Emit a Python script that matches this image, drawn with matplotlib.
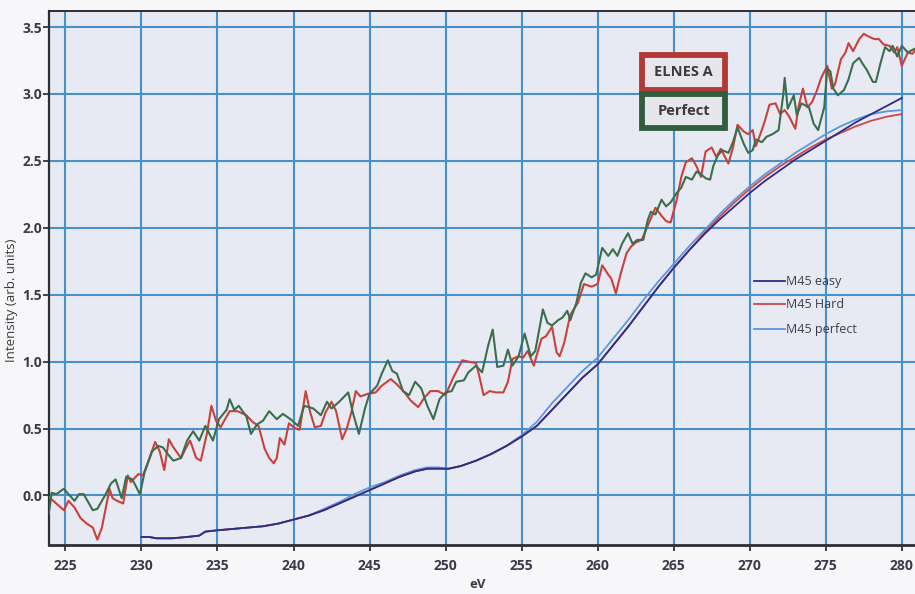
import matplotlib
matplotlib.use("Agg")
import matplotlib.pyplot as plt
from matplotlib.patches import Rectangle
from matplotlib.lines import Line2D

plt.rcParams['font.family'] = ['Open Sans', 'DejaVu Sans']

# Measured ELNES spectra (energy loss in eV, intensity in arb. units)
elnes_a_ev = [223.9, 224.3, 224.9, 225.2, 225.6, 226.0, 226.4, 226.8, 227.1, 227.4, 227.9, 228.1,
              228.4, 228.8, 229.1, 229.3, 229.8, 230.1, 230.4, 230.9, 231.2, 231.5, 231.8, 232.1,
              232.6, 232.9, 233.2, 233.6, 233.9, 234.3, 234.6, 234.9, 235.2, 235.8, 236.3, 236.9,
              237.3, 237.7, 238.1, 238.4, 238.7, 238.9, 239.1, 239.4, 239.7, 240.0, 240.4, 240.8,
              241.1, 241.4, 241.8, 242.1, 242.5, 242.8, 243.2, 243.5, 243.8, 244.1, 244.4, 244.9,
              245.4, 245.8, 246.4, 246.8, 247.3, 247.7, 248.2, 248.6, 249.0, 249.5, 250.0, 250.5,
              251.1, 251.5, 252.0, 252.2, 252.5, 252.9, 253.3, 253.8, 254.1, 254.4, 254.8, 255.1,
              255.4, 255.8, 256.3, 256.6, 257.0, 257.3, 257.5, 257.8, 258.2, 258.7, 259.1, 259.6,
              260.0, 260.3, 260.7, 260.9, 261.2, 261.5, 261.9, 262.2, 262.5, 262.9, 263.2, 263.5,
              263.8, 264.2, 264.5, 264.8, 265.2, 265.5, 265.8, 266.2, 266.5, 266.8, 267.1, 267.5,
              267.8, 268.1, 268.6, 268.9, 269.2, 269.6, 269.9, 270.2, 270.4, 270.7, 271.0, 271.3,
              271.7, 272.0, 272.3, 272.6, 273.0, 273.2, 273.5, 273.8, 274.1, 274.4, 274.7, 275.1,
              275.4, 275.6, 276.0, 276.3, 276.5, 276.8, 277.2, 277.5, 277.8, 278.2, 278.5, 278.8,
              279.2, 279.5, 279.7, 280.0, 280.4, 280.7, 280.9]
elnes_a_int = [-0.01, -0.05, -0.11, -0.04, -0.09, -0.17, -0.21, -0.24, -0.33, -0.24, 0.05, -0.02,
               -0.04, -0.06, 0.15, 0.10, 0.16, 0.15, 0.24, 0.40, 0.33, 0.19, 0.42, 0.36,
               0.28, 0.35, 0.41, 0.28, 0.26, 0.46, 0.67, 0.56, 0.51, 0.63, 0.63, 0.60,
               0.55, 0.52, 0.35, 0.28, 0.24, 0.28, 0.43, 0.38, 0.54, 0.51, 0.49, 0.78,
               0.62, 0.51, 0.52, 0.62, 0.70, 0.63, 0.42, 0.50, 0.62, 0.78, 0.74, 0.76,
               0.77, 0.82, 0.87, 0.83, 0.77, 0.71, 0.66, 0.73, 0.78, 0.78, 0.75, 0.88,
               1.01, 1.00, 0.99, 0.90, 0.75, 0.78, 0.77, 0.77, 0.85, 1.02, 1.04, 1.03,
               1.08, 0.97, 1.17, 1.19, 1.26, 1.07, 1.04, 1.14, 1.35, 1.44, 1.58, 1.56,
               1.58, 1.72, 1.65, 1.62, 1.51, 1.65, 1.81, 1.86, 1.89, 1.91, 1.99, 2.07,
               2.15, 2.09, 2.05, 2.04, 2.21, 2.38, 2.49, 2.52, 2.46, 2.38, 2.57, 2.60,
               2.53, 2.59, 2.48, 2.60, 2.77, 2.72, 2.70, 2.73, 2.61, 2.70, 2.80, 2.92,
               2.93, 2.85, 2.88, 2.83, 2.74, 2.90, 3.04, 2.90, 2.94, 3.02, 3.12, 3.21,
               3.04, 3.07, 3.26, 3.31, 3.38, 3.32, 3.41, 3.45, 3.43, 3.41, 3.41, 3.37,
               3.36, 3.31, 3.35, 3.21, 3.31, 3.30, 3.33]

perfect_ev = [223.9, 224.1, 224.4, 224.9, 225.2, 225.6, 225.9, 226.2, 226.8, 227.1, 227.6, 228.0,
              228.3, 228.7, 229.0, 229.4, 229.9, 230.2, 230.7, 231.1, 231.4, 231.8, 232.1, 232.6,
              233.0, 233.4, 233.8, 234.2, 234.7, 235.1, 235.6, 235.8, 236.1, 236.4, 236.9, 237.2,
              237.6, 238.0, 238.4, 238.9, 239.3, 239.8, 240.3, 240.7, 241.3, 241.8, 242.2, 242.5,
              243.0, 243.6, 243.9, 244.3, 244.7, 245.0, 245.5, 245.8, 246.2, 246.5, 246.8, 247.2,
              247.6, 248.0, 248.4, 248.8, 249.2, 249.6, 250.0, 250.4, 250.7, 251.2, 251.5, 252.0,
              252.4, 252.8, 253.1, 253.4, 253.8, 254.1, 254.4, 254.8, 255.2, 255.6, 255.9, 256.4,
              256.7, 257.0, 257.4, 257.7, 258.0, 258.2, 258.6, 258.9, 259.2, 259.6, 259.9, 260.3,
              260.7, 261.0, 261.3, 261.6, 262.0, 262.3, 262.6, 263.0, 263.3, 263.5, 263.8, 264.2,
              264.5, 264.8, 265.2, 265.5, 265.8, 266.2, 266.5, 266.8, 267.1, 267.4, 267.6, 267.9,
              268.2, 268.6, 268.9, 269.2, 269.6, 269.9, 270.2, 270.4, 270.8, 271.1, 271.5, 271.9,
              272.2, 272.3, 272.5, 272.9, 273.1, 273.4, 273.9, 274.2, 274.5, 274.9, 275.1, 275.3,
              275.5, 275.8, 276.2, 276.5, 276.8, 277.2, 277.4, 277.7, 278.1, 278.3, 278.6, 278.9,
              279.2, 279.4, 279.7, 280.0, 280.4, 280.7, 280.9]
perfect_int = [-0.14, 0.02, 0.01, 0.05, 0.01, -0.04, 0.01, 0.01, -0.11, -0.10, 0.00, 0.09,
               0.12, -0.02, 0.14, 0.12, 0.01, 0.17, 0.33, 0.37, 0.36, 0.30, 0.26, 0.28,
               0.41, 0.48, 0.41, 0.52, 0.41, 0.57, 0.64, 0.72, 0.64, 0.67, 0.59, 0.46,
               0.53, 0.56, 0.63, 0.57, 0.61, 0.57, 0.52, 0.67, 0.65, 0.60, 0.70, 0.65,
               0.70, 0.77, 0.62, 0.46, 0.65, 0.76, 0.82, 0.91, 1.01, 0.93, 0.91, 0.78,
               0.75, 0.85, 0.80, 0.67, 0.57, 0.72, 0.77, 0.78, 0.85, 0.86, 0.92, 0.97,
               0.92, 1.12, 1.24, 0.96, 0.97, 1.09, 0.97, 1.04, 1.21, 1.04, 1.08, 1.39,
               1.29, 1.27, 1.31, 1.33, 1.38, 1.31, 1.44, 1.59, 1.66, 1.63, 1.65, 1.85,
               1.79, 1.84, 1.79, 1.88, 1.96, 1.88, 1.91, 1.91, 2.06, 2.12, 2.10, 2.21,
               2.16, 2.19, 2.26, 2.30, 2.38, 2.36, 2.42, 2.40, 2.37, 2.36, 2.46, 2.54,
               2.58, 2.56, 2.64, 2.75, 2.63, 2.56, 2.58, 2.66, 2.64, 2.68, 2.70, 2.73,
               2.99, 3.12, 2.89, 2.99, 2.84, 2.93, 2.90, 2.78, 2.73, 2.90, 3.19, 3.17,
               3.04, 2.99, 3.03, 3.11, 3.23, 3.27, 3.23, 3.18, 3.09, 3.09, 3.23, 3.35,
               3.32, 3.36, 3.28, 3.36, 3.31, 3.33, 3.34]

# Calculated M45 edges
m45_ev = [230.0, 230.5, 231.0, 232.0, 233.0, 233.8, 234.2, 235.0, 236.0, 237.0, 238.0, 239.0,
          240.0, 241.0, 242.0, 243.0, 244.0, 245.0, 246.0, 247.0, 248.0, 248.8, 249.5, 250.2,
          251.0, 252.0, 253.0, 254.0, 255.0, 256.0, 257.0, 258.0, 259.0, 260.0, 261.0, 262.0,
          263.0, 264.0, 265.0, 266.0, 267.0, 268.0, 269.0, 270.0, 271.0, 272.0, 273.0, 274.0,
          275.0, 276.0, 277.0, 278.0, 279.0, 280.0]
m45_hard = [-0.31, -0.31, -0.32, -0.32, -0.31, -0.30, -0.27, -0.26, -0.25, -0.24, -0.23, -0.21,
            -0.18, -0.15, -0.11, -0.06, -0.01, 0.04, 0.09, 0.14, 0.18, 0.20, 0.20, 0.20,
            0.22, 0.26, 0.31, 0.37, 0.44, 0.52, 0.64, 0.76, 0.88, 0.98, 1.12, 1.26,
            1.41, 1.56, 1.70, 1.83, 1.96, 2.08, 2.19, 2.29, 2.38, 2.46, 2.53, 2.60,
            2.66, 2.71, 2.76, 2.80, 2.83, 2.85]
m45_easy = [-0.31, -0.31, -0.32, -0.32, -0.31, -0.30, -0.27, -0.26, -0.25, -0.24, -0.23, -0.21,
            -0.18, -0.15, -0.11, -0.06, -0.01, 0.04, 0.09, 0.14, 0.18, 0.20, 0.20, 0.20,
            0.22, 0.26, 0.31, 0.37, 0.44, 0.52, 0.64, 0.76, 0.88, 0.98, 1.12, 1.26,
            1.41, 1.56, 1.70, 1.83, 1.95, 2.06, 2.16, 2.26, 2.35, 2.43, 2.51, 2.58,
            2.65, 2.72, 2.79, 2.85, 2.91, 2.97]
m45_perfect = [-0.31, -0.31, -0.32, -0.32, -0.31, -0.30, -0.27, -0.26, -0.25, -0.24, -0.23, -0.21,
               -0.18, -0.15, -0.10, -0.05, 0.01, 0.06, 0.10, 0.15, 0.19, 0.21, 0.21, 0.20,
               0.22, 0.26, 0.31, 0.37, 0.45, 0.55, 0.69, 0.81, 0.93, 1.03, 1.17, 1.31,
               1.46, 1.60, 1.73, 1.86, 1.98, 2.10, 2.21, 2.31, 2.40, 2.48, 2.56, 2.63,
               2.70, 2.76, 2.81, 2.85, 2.87, 2.88]

x_ticks = [225, 230, 235, 240, 245, 250, 255, 260, 265, 270, 275, 280]
y_ticks = [0.0, 0.5, 1.0, 1.5, 2.0, 2.5, 3.0, 3.5]

W, H = 915, 594
fig = plt.figure(figsize=(W / 100, H / 100), dpi=100)
fig.patch.set_facecolor('#f7f7f9')


def px(x0, y0, x1, y1):
    """Rectangle in figure fractions from pixel corners (origin top-left)."""
    return [x0 / W, 1 - y1 / H, (x1 - x0) / W, (y1 - y0) / H]


ax = fig.add_axes(px(49, 11, 915, 545))
ax.set_facecolor('#e8eaf3')

grid_c = '#4690d0'
for xv in x_ticks:
    ax.axvline(xv, color=grid_c, lw=1.5, zorder=1)
for yv in y_ticks:
    ax.axhline(yv, color=grid_c, lw=1.5, zorder=1)

red_c = '#c8413c'
green_c = '#3a6e4c'
navy_c = '#2b2e86'
hard_c = '#d0464a'
light_c = '#5b98de'

ax.plot(m45_ev, m45_perfect, color=light_c, lw=1.3, zorder=3)
ax.plot(m45_ev, m45_hard, color=hard_c, lw=1.3, zorder=3)
ax.plot(m45_ev, m45_easy, color=navy_c, lw=1.3, zorder=3)
ax.plot(elnes_a_ev, elnes_a_int, color=red_c, lw=1.5, zorder=4)
ax.plot(perfect_ev, perfect_int, color=green_c, lw=1.5, zorder=4)

ax.set_xlim(223.92, 280.87)
ax.set_ylim(-0.37, 3.62)
ax.set_xticks(x_ticks)
ax.set_yticks(y_ticks)
ax.set_xticklabels([str(v) for v in x_ticks])
ax.set_yticklabels([f'{v:.1f}' for v in y_ticks])

tick_c = '#3b3a4a'
ax.tick_params(axis='both', colors='#333333', labelcolor=tick_c, labelsize=10,
               length=4, width=1.3, direction='out')
ax.tick_params(axis='x', pad=6)
ax.tick_params(axis='y', pad=1)
for lab in ax.get_xticklabels() + ax.get_yticklabels():
    lab.set_fontweight('bold')

for side in ('left', 'bottom', 'top'):
    ax.spines[side].set_color('#2e2e36')
ax.spines['left'].set_linewidth(1.6)
ax.spines['bottom'].set_linewidth(2.0)
ax.spines['top'].set_linewidth(1.4)
ax.spines['right'].set_visible(False)

fig.text(12 / W, 1 - 300 / H, 'Intensity (arb. units)', rotation=90, ha='center',
         va='center', fontsize=9.5, color='#3b3a3a')
fig.text(478 / W, 1 - 585 / H, 'eV', ha='center', va='center', fontsize=9.5,
         fontweight='bold', color='#3b3a4a')

# Boxed labels for the measured spectra
for (y0, y1, ec, label) in [(55, 90, '#b23a35', 'ELNES A'), (94, 128, '#2f5e3e', 'Perfect')]:
    fig.add_artist(Rectangle(px(642, y0, 725, y1)[:2], 83 / W, (y1 - y0) / H,
                             transform=fig.transFigure, facecolor='#e6e6ec',
                             edgecolor=ec, lw=4.2, zorder=10))
    fig.text(683.5 / W, 1 - (y0 + y1) / 2 / H, label, ha='center', va='center',
             fontsize=10.5, fontweight='bold', color='#3a3a3a', zorder=11)

# Legend for the calculated edges
for yy, c, label in [(281, navy_c, 'M45 easy'), (304, hard_c, 'M45 Hard'),
                     (329, light_c, 'M45 perfect')]:
    fig.add_artist(Line2D([754 / W, 785 / W], [1 - yy / H, 1 - yy / H],
                          transform=fig.transFigure, color=c, lw=1.3))
    fig.text(786 / W, 1 - yy / H, label, ha='left', va='center', fontsize=9,
             color='#3c3c52')

fig.savefig('out.png', dpi=100, facecolor=fig.get_facecolor())
